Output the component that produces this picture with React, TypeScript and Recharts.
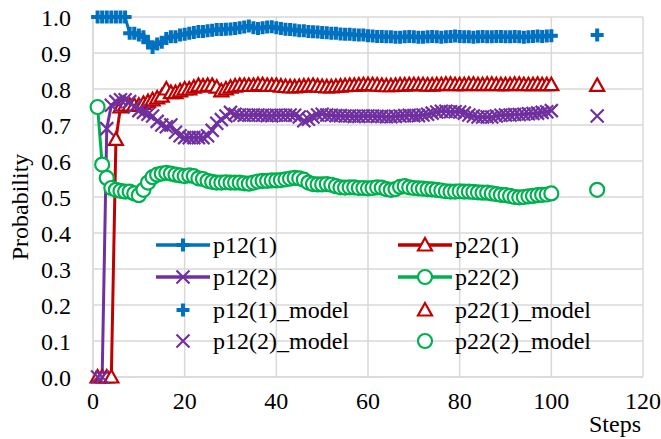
import { ComposedChart, Line, Scatter, XAxis, YAxis, CartesianGrid } from 'recharts';

const steps = Array.from({ length: 100 }, (_, i) => i + 1);

const p12_1 = [
  1, 1, 1, 1, 1, 1, 1, 0.955, 0.955, 0.95,
  0.945, 0.93, 0.915, 0.925, 0.93, 0.94, 0.945, 0.945, 0.95, 0.952,
  0.955, 0.957, 0.96, 0.96, 0.962, 0.963, 0.965, 0.965, 0.966, 0.967,
  0.968, 0.97, 0.972, 0.975, 0.97, 0.968, 0.97, 0.972, 0.973, 0.97,
  0.968, 0.966, 0.965, 0.964, 0.962, 0.962, 0.96, 0.959, 0.958, 0.957,
  0.956, 0.955, 0.955, 0.953, 0.952, 0.952, 0.951, 0.95, 0.95, 0.948,
  0.947, 0.946, 0.946, 0.945, 0.945, 0.944, 0.944, 0.945, 0.946, 0.945,
  0.944, 0.944, 0.945, 0.946, 0.945, 0.944, 0.945, 0.946, 0.947, 0.946,
  0.945, 0.945, 0.944, 0.945, 0.946, 0.945, 0.945, 0.946, 0.946, 0.945,
  0.945, 0.946, 0.945, 0.944, 0.945, 0.946, 0.947, 0.946, 0.947, 0.948,
];

const p22_1 = [
  0, 0, 0, 0, 0.66, 0.75, 0.755, 0.755, 0.755, 0.755,
  0.76, 0.765, 0.77, 0.775, 0.78, 0.8, 0.79, 0.79, 0.795, 0.8,
  0.8, 0.805, 0.81, 0.808, 0.81, 0.81, 0.805, 0.795, 0.8, 0.805,
  0.808, 0.81, 0.81, 0.81, 0.81, 0.812, 0.812, 0.81, 0.81, 0.81,
  0.808, 0.807, 0.806, 0.806, 0.807, 0.808, 0.809, 0.81, 0.808, 0.807,
  0.806, 0.806, 0.807, 0.808, 0.809, 0.81, 0.81, 0.811, 0.812, 0.812,
  0.812, 0.811, 0.81, 0.809, 0.809, 0.81, 0.811, 0.811, 0.812, 0.812,
  0.812, 0.812, 0.811, 0.811, 0.812, 0.812, 0.813, 0.813, 0.812, 0.812,
  0.812, 0.813, 0.813, 0.812, 0.812, 0.813, 0.813, 0.812, 0.812, 0.812,
  0.812, 0.813, 0.813, 0.812, 0.812, 0.812, 0.813, 0.812, 0.812, 0.812,
];

const p12_2 = [
  0, 0, 0.69, 0.755, 0.765, 0.77, 0.77, 0.765, 0.75, 0.74,
  0.735, 0.73, 0.725, 0.71, 0.7, 0.695, 0.7, 0.68, 0.67, 0.665,
  0.665, 0.665, 0.665, 0.665, 0.67, 0.685, 0.705, 0.715, 0.725, 0.735,
  0.73, 0.728, 0.727, 0.727, 0.728, 0.728, 0.727, 0.726, 0.726, 0.727,
  0.727, 0.727, 0.728, 0.727, 0.722, 0.712, 0.716, 0.722, 0.728, 0.73,
  0.728, 0.727, 0.726, 0.726, 0.725, 0.725, 0.724, 0.724, 0.725, 0.725,
  0.725, 0.724, 0.724, 0.723, 0.723, 0.724, 0.725, 0.726, 0.727, 0.726,
  0.726, 0.728, 0.73, 0.733, 0.736, 0.738, 0.738, 0.737, 0.737, 0.736,
  0.733, 0.728, 0.725, 0.722, 0.722, 0.722, 0.722, 0.725, 0.727, 0.728,
  0.728, 0.729, 0.729, 0.73, 0.731, 0.732, 0.733, 0.735, 0.737, 0.74,
];

const p22_2 = [
  0.75, 0.59, 0.553, 0.525, 0.52, 0.517, 0.515, 0.515, 0.51, 0.505,
  0.52, 0.54, 0.555, 0.562, 0.565, 0.567, 0.565, 0.562, 0.56, 0.558,
  0.56, 0.558, 0.552, 0.55, 0.545, 0.542, 0.54, 0.54, 0.541, 0.54,
  0.54, 0.54, 0.538, 0.537, 0.54, 0.543, 0.545, 0.545, 0.546, 0.546,
  0.547, 0.549, 0.551, 0.553, 0.552, 0.548, 0.54, 0.536, 0.535, 0.535,
  0.536, 0.534, 0.53, 0.527, 0.526, 0.527, 0.527, 0.525, 0.525, 0.524,
  0.525, 0.527, 0.526, 0.522, 0.52, 0.522, 0.528, 0.53, 0.527, 0.525,
  0.524, 0.523, 0.522, 0.521, 0.52, 0.518, 0.516, 0.515, 0.515, 0.516,
  0.515, 0.515, 0.514, 0.513, 0.512, 0.512, 0.51, 0.508, 0.506, 0.505,
  0.503, 0.5, 0.499, 0.5, 0.502, 0.503, 0.505, 0.506, 0.507, 0.51,
];

const modelStep = 110;
const p12_1_model = 0.95;
const p22_1_model = 0.81;
const p12_2_model = 0.725;
const p22_2_model = 0.52;

const xTicks = [0, 20, 40, 60, 80, 100, 120];
const yTicks = [0, 0.1, 0.2, 0.3, 0.4, 0.5, 0.6, 0.7, 0.8, 0.9, 1.0];

const BLUE = '#0070c0';
const RED = '#c00000';
const PURPLE = '#7030a0';
const GREEN = '#00b050';
const FONT = 'Liberation Serif, DejaVu Serif, serif';
const FS = 24;
const textStyle = { fontFamily: FONT };

const table = steps.map((s, i) => ({
  x: s,
  a: p12_1[i],
  b: p22_1[i],
  c: p12_2[i],
  d: p22_2[i],
}));

function PlusMark({ cx, cy, color }: { cx: number; cy: number; color: string }) {
  return (
    <path
      d={`M${cx - 6.5},${cy}H${cx + 6.5}M${cx},${cy - 6.5}V${cy + 6.5}`}
      stroke={color}
      strokeWidth={4}
      fill="none"
    />
  );
}

function TriMark({ cx, cy, color }: { cx: number; cy: number; color: string }) {
  return (
    <path
      d={`M${cx},${cy - 7}L${cx + 7},${cy + 5.5}L${cx - 7},${cy + 5.5}Z`}
      stroke={color}
      strokeWidth={2.2}
      fill="#fff"
    />
  );
}

function XMark({ cx, cy, color }: { cx: number; cy: number; color: string }) {
  return (
    <path
      d={`M${cx - 6.5},${cy - 6.5}L${cx + 6.5},${cy + 6.5}M${cx - 6.5},${cy + 6.5}L${cx + 6.5},${cy - 6.5}`}
      stroke={color}
      strokeWidth={2.2}
      fill="none"
    />
  );
}

function CircMark({ cx, cy, color }: { cx: number; cy: number; color: string }) {
  return <circle cx={cx} cy={cy} r={7} stroke={color} strokeWidth={2.2} fill="#fff" />;
}

const dotFn = (Mark: any, color: string) => (p: any) =>
  <Mark key={p.index} cx={p.cx} cy={p.cy} color={color} />;

const shapeFn = (Mark: any, color: string) => (p: any) =>
  <Mark cx={p.cx} cy={p.cy} color={color} />;

const legendRows = [
  { label: 'p12(1)', Mark: PlusMark, color: BLUE, line: true, col: 0, y: 245 },
  { label: 'p22(1)', Mark: TriMark, color: RED, line: true, col: 1, y: 245 },
  { label: 'p12(2)', Mark: XMark, color: PURPLE, line: true, col: 0, y: 277 },
  { label: 'p22(2)', Mark: CircMark, color: GREEN, line: true, col: 1, y: 277 },
  { label: 'p12(1)_model', Mark: PlusMark, color: BLUE, line: false, col: 0, y: 310 },
  { label: 'p22(1)_model', Mark: TriMark, color: RED, line: false, col: 1, y: 310 },
  { label: 'p12(2)_model', Mark: XMark, color: PURPLE, line: false, col: 0, y: 341 },
  { label: 'p22(2)_model', Mark: CircMark, color: GREEN, line: false, col: 1, y: 341 },
];

function Overlay() {
  return (
    <svg
      width={661}
      height={439}
      style={{ position: 'absolute', left: 0, top: 0, pointerEvents: 'none' }}
    >
      {legendRows.map((r) => {
        const x0 = r.col === 0 ? 156 : 398;
        return (
          <g key={r.label}>
            {r.line && (
              <line x1={x0} x2={x0 + 54} y1={r.y} y2={r.y} stroke={r.color} strokeWidth={3.5} />
            )}
            <r.Mark cx={x0 + 27} cy={r.y} color={r.color} />
            <text x={x0 + 57} y={r.y + 8} style={textStyle} fontSize={FS} fill="#000">
              {r.label}
            </text>
          </g>
        );
      })}
      <text
        transform="translate(28,207) rotate(-90)"
        textAnchor="middle"
        style={textStyle}
        fontSize={FS}
        fill="#000"
      >
        Probability
      </text>
      <text x={641} y={432} textAnchor="end" style={textStyle} fontSize={FS} fill="#000">
        Steps
      </text>
    </svg>
  );
}

export default function App() {
  return (
    <div style={{ position: 'absolute', left: 0, top: 0, width: 661, height: 439, background: '#fff' }}>
      <ComposedChart
        width={661}
        height={439}
        data={table}
        margin={{ top: 17, right: 18, left: 0, bottom: 0 }}
      >
        <CartesianGrid stroke="#d9d9d9" strokeWidth={1.5} />
        <XAxis
          type="number"
          dataKey="x"
          domain={[0, 120]}
          ticks={xTicks}
          height={62}
          tickSize={0}
          tickMargin={15}
          axisLine={{ stroke: '#d9d9d9', strokeWidth: 1.5 }}
          tick={{ style: textStyle, fontSize: FS, fill: '#000' }}
        />
        <YAxis
          type="number"
          domain={[0, 1]}
          ticks={yTicks}
          width={93}
          tickSize={0}
          tickMargin={22}
          axisLine={{ stroke: '#d9d9d9', strokeWidth: 1.5 }}
          tickFormatter={(v: number) => v.toFixed(1)}
          tick={{ style: textStyle, fontSize: FS, fill: '#000' }}
        />
        <Line dataKey="a" stroke={BLUE} strokeWidth={3} dot={dotFn(PlusMark, BLUE)} isAnimationActive={false} />
        <Line dataKey="b" stroke={RED} strokeWidth={3} dot={dotFn(TriMark, RED)} isAnimationActive={false} />
        <Line dataKey="c" stroke={PURPLE} strokeWidth={3} dot={dotFn(XMark, PURPLE)} isAnimationActive={false} />
        <Line dataKey="d" stroke={GREEN} strokeWidth={3} dot={dotFn(CircMark, GREEN)} isAnimationActive={false} />
        <Scatter data={[{ x: modelStep, y: p12_1_model }]} dataKey="y" shape={shapeFn(PlusMark, BLUE)} isAnimationActive={false} />
        <Scatter data={[{ x: modelStep, y: p22_1_model }]} dataKey="y" shape={shapeFn(TriMark, RED)} isAnimationActive={false} />
        <Scatter data={[{ x: modelStep, y: p12_2_model }]} dataKey="y" shape={shapeFn(XMark, PURPLE)} isAnimationActive={false} />
        <Scatter data={[{ x: modelStep, y: p22_2_model }]} dataKey="y" shape={shapeFn(CircMark, GREEN)} isAnimationActive={false} />
      </ComposedChart>
      <Overlay />
    </div>
  );
}
